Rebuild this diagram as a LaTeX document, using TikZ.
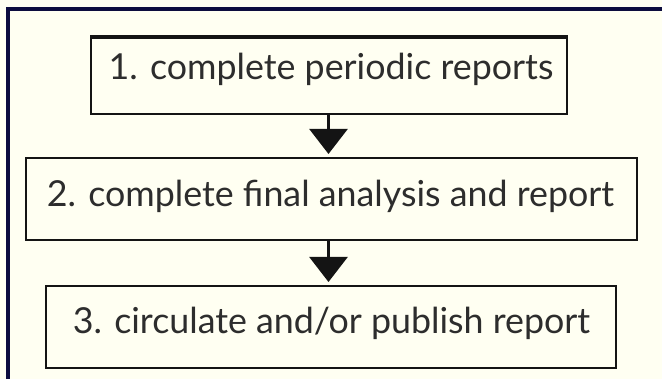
\documentclass[tikz,border=0pt]{standalone}
\usepackage{fontspec}
\setmainfont{Lato}
\usetikzlibrary{arrows.meta}
\definecolor{bg}{RGB}{255,255,242}
\definecolor{frame}{RGB}{12,12,62}
\definecolor{ink}{RGB}{20,20,20}
\definecolor{txt}{RGB}{45,45,45}
\begin{document}
\begin{tikzpicture}[x=1pt,y=-1pt,
  stepbox/.style={draw=ink,line width=2pt,inner sep=0pt,rectangle},
  steptext/.style={anchor=base,inner sep=0pt,text=txt,font=\fontsize{35.8}{42}\selectfont},
  flow/.style={draw=ink,line width=2.6pt,-{Triangle[width=38pt,length=25pt]},shorten >=3pt}]
\fill[bg] (0,0) rectangle (662,379);
\useasboundingbox (0,0) rectangle (662,379);
\draw[frame,line width=4pt] (8,379) -- (8,9) -- (662,9);
\node[stepbox,minimum width=476pt,minimum height=77pt] (b1) at (329,75.5) {};
\draw[ink,line width=4pt] (b1.north west) ++(0,1) -- ([yshift=-1pt]b1.north east);
\node[stepbox,minimum width=611pt,minimum height=82pt] (b2) at (331.5,199) {};
\node[stepbox,minimum width=570pt,minimum height=82pt] (b3) at (331,327) {};
\node[steptext] (t1) at (331,80) {1. complete periodic reports};
\node[steptext] (t2) at (330.5,207) {2. complete final analysis and report};
\node[steptext] (t3) at (331.5,334) {3. circulate and/or publish report};
\coordinate (ax) at (328.5,0);
\draw[flow] (b1.south -| ax) -- (b2.north -| ax);
\draw[flow] (b2.south -| ax) -- (b3.north -| ax);
\end{tikzpicture}
\end{document}
